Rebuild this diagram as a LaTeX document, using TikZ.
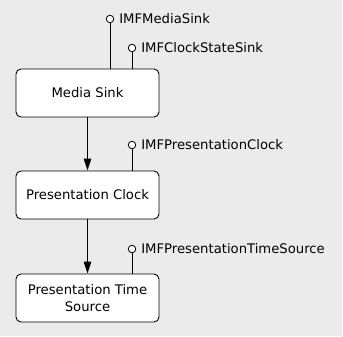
\documentclass[tikz,border=0pt]{standalone}
\usepackage{fontspec}
\setmainfont{DejaVu Sans}
\usepackage{tikz}
\usetikzlibrary{calc,positioning,arrows.meta}

\tikzset{
  comp/.style={draw,line width=0.9pt,fill=white,rounded corners=5pt,minimum width=143pt,minimum height=48pt,align=center,font=\fontsize{13.2}{17.5}\selectfont},
  lolli/.style={draw,line width=0.8pt,circle,fill=white,inner sep=0pt,minimum size=7.5pt},
  iface/.style={right,inner sep=1pt,font=\fontsize{13.2}{15}\selectfont}
}

\begin{document}
\begin{tikzpicture}[x=1pt,y=-1pt]

    % Hintergrund
    \fill[black!8] (0,0) rectangle (342,336);
    \useasboundingbox (0,0) rectangle (343,337);

    % Komponenten
    \node[comp] (sink) at (87.5,93) {Media Sink};
    \node[comp] (clock) at (87.5,195) {Presentation Clock};
    \node[comp] (source) at (87.5,298) {Presentation Time\\Source};

    % Pfeile zwischen den Komponenten
    \draw[line width=1pt,-{Triangle[length=12pt,width=7.5pt]}] (sink) -- (clock);
    \draw[line width=1pt,-{Triangle[length=12pt,width=7.5pt]}] (clock) -- (source);

    % Schnittstellen (Lollipops)
    \node[lolli] (ms) at (110,19) {};
    \node[lolli] (css) at (132,48) {};
    \node[lolli] (pc) at (132,145) {};
    \node[lolli] (pts) at (132,249) {};

    \draw[line width=0.9pt] (sink.north -| ms) -- (ms);
    \draw[line width=0.9pt] (sink.north -| css) -- (css);
    \draw[line width=0.9pt] (clock.north -| pc) -- (pc);
    \draw[line width=0.9pt] (source.north -| pts) -- (pts);

    \node[iface] at (ms.east) [xshift=4pt] {IMFMediaSink};
    \node[iface] at (css.east) [xshift=4pt] {IMFClockStateSink};
    \node[iface] at (pc.east) [xshift=4pt] {IMFPresentationClock};
    \node[iface] at (pts.east) [xshift=4pt] {IMFPresentationTimeSource};

\end{tikzpicture}
\end{document}
